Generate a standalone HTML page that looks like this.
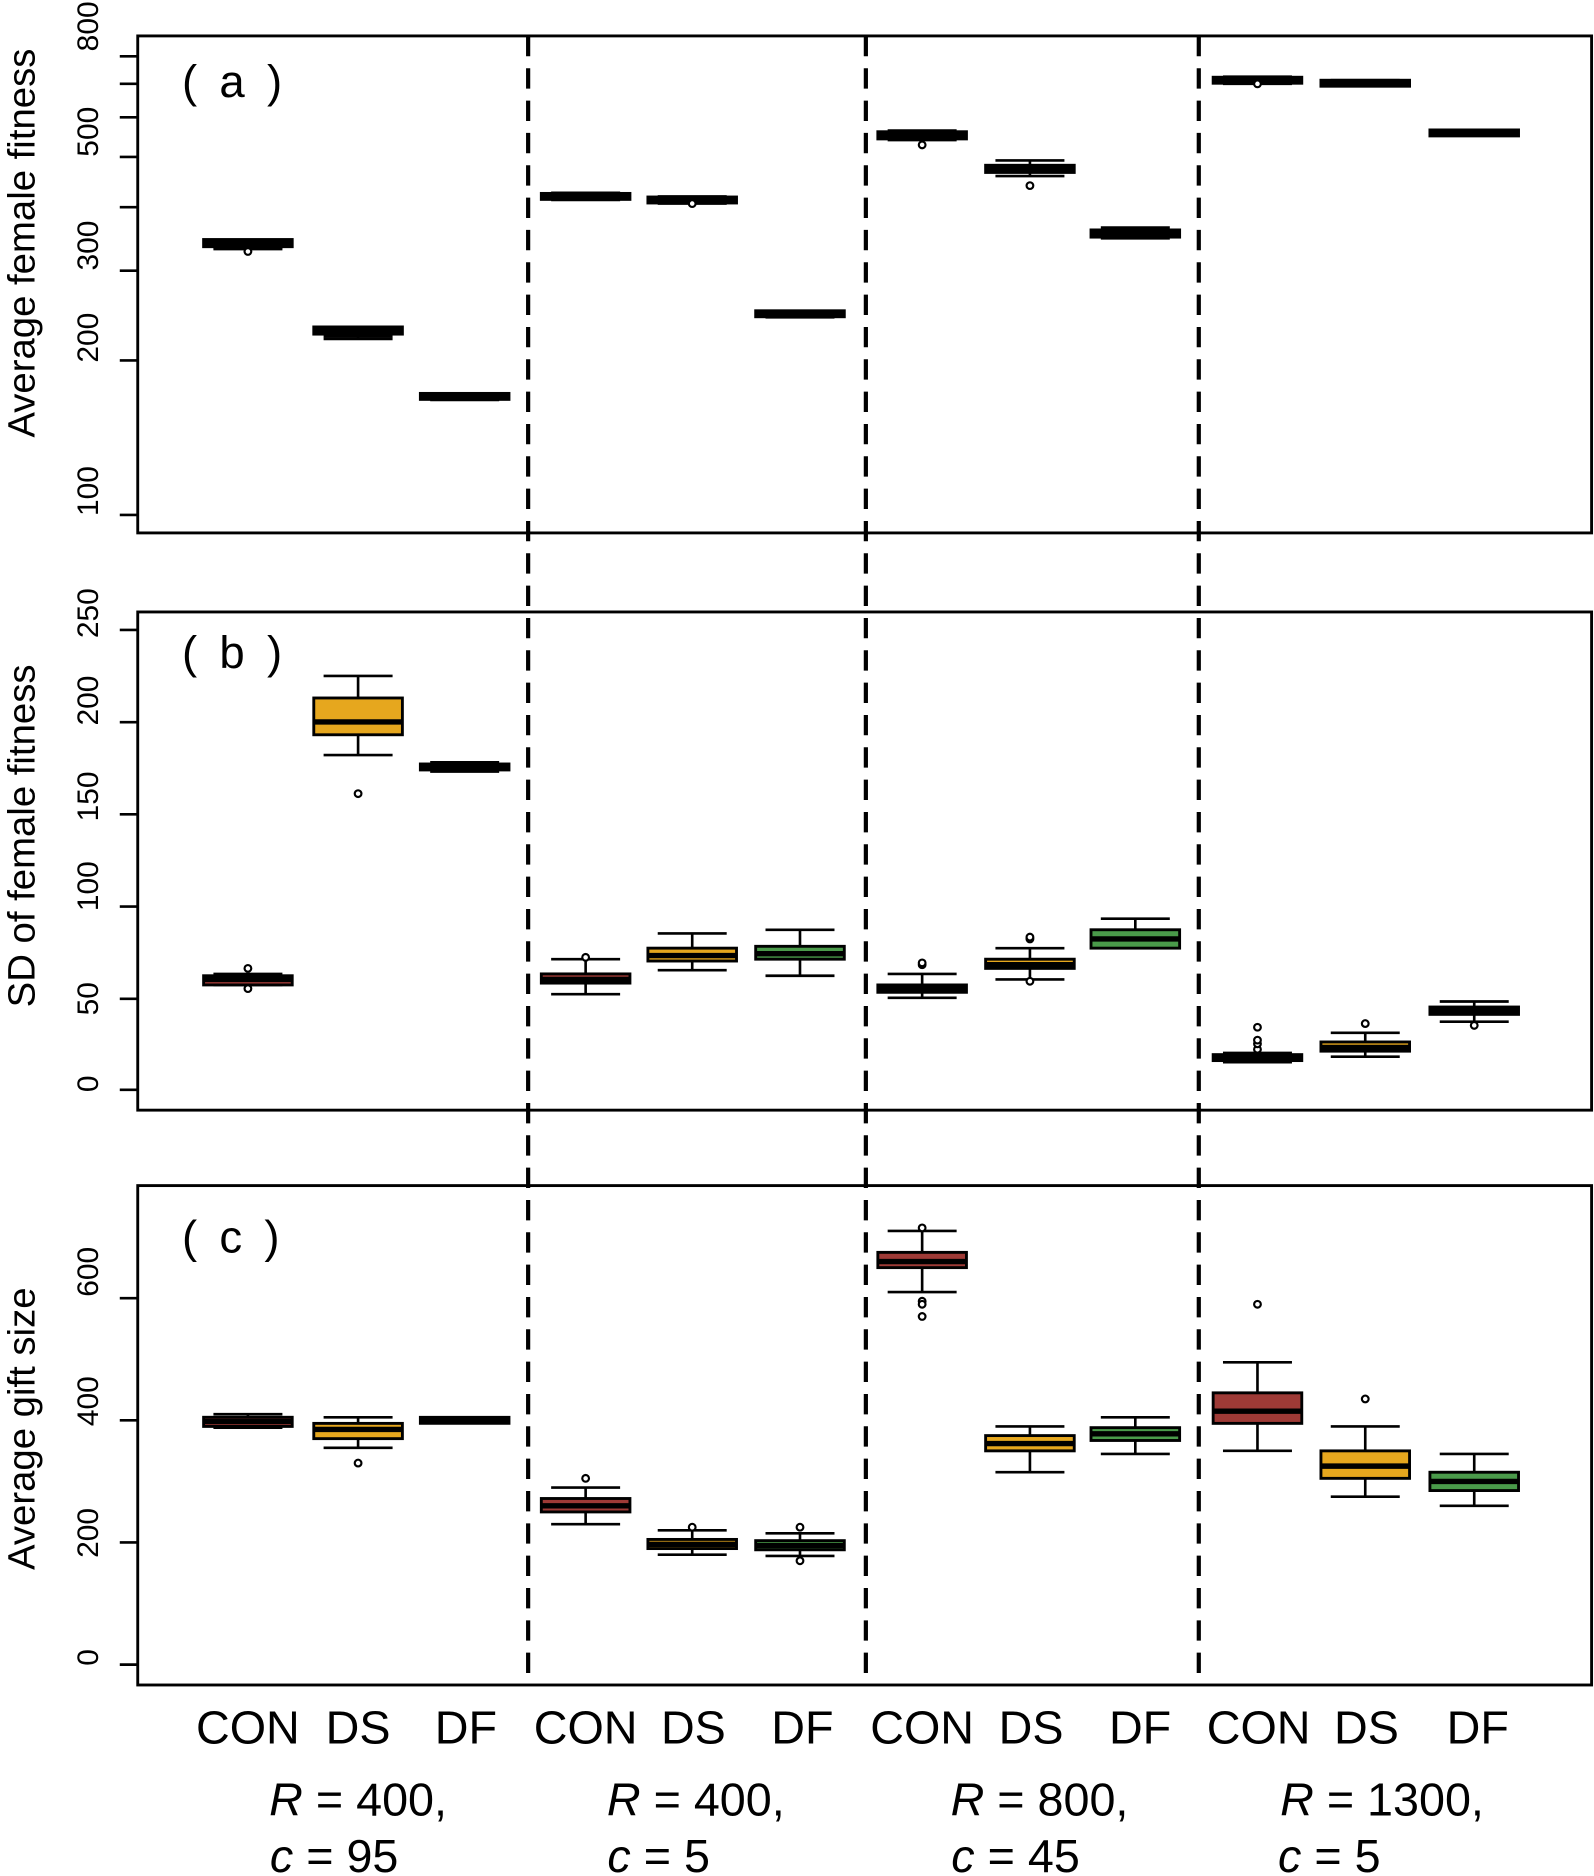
<!DOCTYPE html>
<html><head><meta charset="utf-8"><style>html,body{margin:0;padding:0;background:#fff}svg{display:block}</style></head>
<body>
<svg id="s" width="1594" height="1876" viewBox="0 0 1331 1566.5" xmlns="http://www.w3.org/2000/svg" font-family="Liberation Sans, Arial, sans-serif">
<rect x="0" y="0" width="1331" height="1566.5" fill="#fff"/>
<g fill="none" stroke="#000" stroke-width="2.4">
<rect x="115" y="30" width="1214" height="415"/>
<rect x="115" y="511" width="1214" height="416"/>
<rect x="115" y="990" width="1214" height="417"/>
</g>
<g stroke="#000" stroke-width="3.5" stroke-dasharray="17,10">
<line x1="441" y1="30" x2="441" y2="1407"/>
<line x1="723" y1="30" x2="723" y2="1407"/>
<line x1="1001" y1="30" x2="1001" y2="1407"/>
</g>
<g stroke="#000" stroke-width="2.2">
<line x1="100" y1="47" x2="115" y2="47"/><line x1="100" y1="70" x2="115" y2="70"/><line x1="100" y1="98" x2="115" y2="98"/><line x1="100" y1="131" x2="115" y2="131"/><line x1="100" y1="173" x2="115" y2="173"/><line x1="100" y1="226" x2="115" y2="226"/><line x1="100" y1="301" x2="115" y2="301"/><line x1="100" y1="430" x2="115" y2="430"/>
<line x1="100" y1="910" x2="115" y2="910"/><line x1="100" y1="834" x2="115" y2="834"/><line x1="100" y1="757" x2="115" y2="757"/><line x1="100" y1="680" x2="115" y2="680"/><line x1="100" y1="603" x2="115" y2="603"/><line x1="100" y1="526" x2="115" y2="526"/>
<line x1="100" y1="1390" x2="115" y2="1390"/><line x1="100" y1="1288" x2="115" y2="1288"/><line x1="100" y1="1186" x2="115" y2="1186"/><line x1="100" y1="1084" x2="115" y2="1084"/>
</g>
<g font-size="25" text-anchor="middle" fill="#000">
<text transform="translate(82,22) rotate(-90)">800</text>
<text transform="translate(82,110) rotate(-90)">500</text>
<text transform="translate(82,205) rotate(-90)">300</text>
<text transform="translate(82,282) rotate(-90)">200</text>
<text transform="translate(82,410) rotate(-90)">100</text>
<text transform="translate(82,905) rotate(-90)">0</text>
<text transform="translate(82,834) rotate(-90)">50</text>
<text transform="translate(82,740) rotate(-90)">100</text>
<text transform="translate(82,665) rotate(-90)">150</text>
<text transform="translate(82,585) rotate(-90)">200</text>
<text transform="translate(82,512) rotate(-90)">250</text>
<text transform="translate(82,1384) rotate(-90)">0</text>
<text transform="translate(82,1280) rotate(-90)">200</text>
<text transform="translate(82,1170) rotate(-90)">400</text>
<text transform="translate(82,1062) rotate(-90)">600</text>
</g>
<g font-size="32" text-anchor="middle" fill="#000">
<text transform="translate(29,203) rotate(-90)">Average female fitness</text>
<text transform="translate(29,698) rotate(-90)">SD of female fitness</text>
<text transform="translate(29,1193) rotate(-90)">Average gift size</text>
</g>
<g font-size="38" fill="#000" letter-spacing="4">
<text x="152" y="81">( a )</text>
<text x="152" y="558">( b )</text>
<text x="152" y="1046">( c )</text>
</g>
<g font-size="39" text-anchor="middle" fill="#000">
<text x="207" y="1456">CON</text><text x="299" y="1456">DS</text><text x="389" y="1456">DF</text>
<text x="489" y="1456">CON</text><text x="579" y="1456">DS</text><text x="670" y="1456">DF</text>
<text x="770" y="1456">CON</text><text x="861" y="1456">DS</text><text x="952" y="1456">DF</text>
<text x="1051" y="1456">CON</text><text x="1141" y="1456">DS</text><text x="1234" y="1456">DF</text>
<text x="299" y="1516"><tspan font-style="italic">R</tspan> = 400,</text>
<text x="581" y="1516"><tspan font-style="italic">R</tspan> = 400,</text>
<text x="868" y="1516"><tspan font-style="italic">R</tspan> = 800,</text>
<text x="1154" y="1516"><tspan font-style="italic">R</tspan> = 1300,</text>
<text x="279" y="1563"><tspan font-style="italic">c</tspan> = 95</text>
<text x="550" y="1563"><tspan font-style="italic">c</tspan> = 5</text>
<text x="848" y="1563"><tspan font-style="italic">c</tspan> = 45</text>
<text x="1110" y="1563"><tspan font-style="italic">c</tspan> = 5</text>
</g>
<g id="boxes"></g>
</svg>
<script>
var R='#9e3a36',Y='#e6a71e',G='#4a9a4a';
var xs=[207,299,388,489,578,668,770,860,948,1050,1140,1231];
var cols=[R,Y,G,R,Y,G,R,Y,G,R,Y,G];
var A=[[207,200,203,206,208,[210]],[281,273,276,279,283,[]],[333,329,331,333,334,[]],
[161,162,164,166,167,[]],[164,165,167,169,170,[170]],[260,260,262,264,265,[]],
[109,110,113,116,117,[121]],[134,138,141,144,147,[155]],[190,192,195,198,199,[]],
[64,65,67,69,70,[70]],[67,68,69,71,72,[]],[109,109,111,113,113,[]]];
function bmap(v){return 910-v*1.536;}
function cmap(v){return 1390-v*0.51;}
var B=[[57,57,60,62,63,[66,55]],[182,193,200,213,225,[161]],[173,174,175,177,178,[]],
[52,58,60,63,71,[72]],[65,70,73,77,85,[]],[62,71,74,78,87,[]],
[50,53,55,57,63,[68,69]],[60,66,68,71,77,[82,83,59]],[77,77,82,87,93,[]],
[15,16,17,19,20,[22,25,27,34]],[18,21,23,26,31,[36]],[37,41,43,45,48,[35]]];
var C=[[388,390,398,405,410,[]],[355,370,385,395,405,[330]],[397,398,400,402,403,[]],
[230,250,260,272,290,[305]],[180,190,197,205,220,[225]],[178,188,195,203,215,[225,170]],
[610,650,660,675,710,[715,595,590,570]],[315,350,362,375,390,[]],[345,367,378,388,405,[]],
[350,395,415,445,495,[590]],[275,305,325,350,390,[435]],[260,285,300,315,345,[]]];
var out='';
function draw(d,m,i,forceBlack){
 var x=xs[i],hw=37,cw=18;
 var lw=m(d[0]),q1=m(d[1]),md=m(d[2]),q3=m(d[3]),hi=m(d[4]);
 var top=Math.min(q1,q3),bot=Math.max(q1,q3);
 out+='<line x1="'+x+'" y1="'+Math.min(lw,hi)+'" x2="'+x+'" y2="'+Math.max(lw,hi)+'" stroke="#000" stroke-width="2.2"/>';
 out+='<line x1="'+(x-cw*1.6)+'" y1="'+lw+'" x2="'+(x+cw*1.6)+'" y2="'+lw+'" stroke="#000" stroke-width="2.2"/>';
 out+='<line x1="'+(x-cw*1.6)+'" y1="'+hi+'" x2="'+(x+cw*1.6)+'" y2="'+hi+'" stroke="#000" stroke-width="2.2"/>';
 var h=bot-top; if(h<5){top=(top+bot)/2-2.5;h=5;}
 out+='<rect x="'+(x-hw)+'" y="'+top+'" width="'+(2*hw)+'" height="'+h+'" fill="'+((forceBlack||h<=6)?'#000':cols[i])+'" stroke="#000" stroke-width="2.4"/>';
 out+='<line x1="'+(x-hw)+'" y1="'+md+'" x2="'+(x+hw)+'" y2="'+md+'" stroke="#000" stroke-width="4.5"/>';
 d[5].forEach(function(o){out+='<circle cx="'+x+'" cy="'+m(o)+'" r="2.8" fill="#fff" stroke="#000" stroke-width="1.8"/>';});
}
A.forEach(function(d,i){draw(d,function(v){return v;},i,true);});
B.forEach(function(d,i){draw(d,bmap,i,false);});
C.forEach(function(d,i){draw(d,cmap,i,false);});
document.getElementById('boxes').innerHTML=out;
</script>
</body></html>
